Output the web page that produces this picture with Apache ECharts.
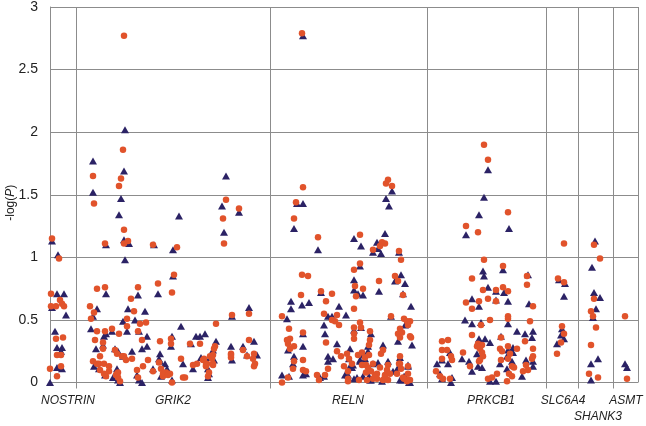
<!DOCTYPE html>
<html>
<head>
<meta charset="utf-8">
<script src="https://cdn.jsdelivr.net/npm/echarts@6/dist/echarts.min.js"></script>
<style>html,body{margin:0;padding:0;background:#fff}#c{width:646px;height:426px}</style>
</head>
<body>
<div id="c"></div>
<script>
// x: relative SNP position along the concatenated gene regions; y: -log(P)
var geneNames = ['NOSTRIN', 'GRIK2', 'RELN', 'PRKCB1', 'SLC6A4', 'ASMT'];
var geneLabelPos = [18, 123, 298, 441, 513, 576];
var lowerGeneNames = ['SHANK3'];
var lowerGeneLabelPos = [548];
var geneBounds = [26, 220.7, 377.3, 496, 528, 563.3];
var plotEnd = 588;
var yTicks = [0, 0.5, 1, 1.5, 2, 2.5, 3];

// circles (red)
var nostrinCircle = [[2,1.15],[9,0.99],[1,0.71],[1,0.61],[6,0.61],[10,0.66],[12,0.63],[14,0.61],[6,0.35],[13,0.36],[7,0.22],[11,0.22],[0,0.11],[11,0.13],[7,0.05]];
var grik2Circle = [[74,2.77],[73,1.86],[71,1.63],[69,1.57],[74,1.22],[78,1.13],[74,1.11],[43,1.65],[44,1.43],[55,1.11],[103,1.10],[127,1.08],[124,0.86],[122,0.72],[108,0.79],[47,0.75],[55,0.76],[88,0.76],[81,0.67],
  [176,1.46],[189,1.39],[173,1.31],[174,1.11],[182,0.54],[199,0.55],
  [40,0.61],[41,0.51],[44,0.56],[47,0.41],[45,0.34],[43,0.17],[50,0.21],[49,0.15],[53,0.27],[54,0.15],[55,0.41],[56,0.05],[59,0.09],[62,0.43],[59,0.13],[66,0.06],[65,0.26],[68,0.08],[70,0.01],[67,0.23],[69,0.39],[77,0.45],[77,0.51],[76,0.18],[72,0.21],[82,0.19],[84,0.57],[87,0.10],[92,0.34],[93,0.13],[90,0.47],[96,0.48],[98,0.18],[103,0.09],[109,0.16],[110,0.33],[111,0.11],[116,0.08],[113,0.05],[120,0.07],[121,0.35],[121,0.31],[122,0.0],[131,0.19],[133,0.04],[135,0.04],[140,0.31],[147,0.15],[150,0.31],[154,0.19],[156,0.13],[158,0.05],[159,0.08],[160,0.21],[162,0.19],[163,0.15],[166,0.47],[165,0.29],
  [157,0.15],[164,0.27],[163,0.22],[181,0.23],[181,0.20],[193,0.26],[197,0.21],[199,0.34],[204,0.23],[203,0.19],[205,0.15],[204,0.13],
  [88,0.41],[53,0.32],[74,0.21],[47,0.15],[50,0.10],[54,0.07],[67,0.07],[68,0.04],[88,0.04],[232,0.53],[181,0.22],[143,0.14],[153,0.18],[156,0.14],[163,0.14],[113,0.07],[118,0.06]];
var relnCircle = [[252,2.79],[253,1.56],[246,1.44],[244,1.31],[268,1.16],[252,0.86],[258,0.85],[251,0.70],[239,0.43],[271,0.73],[282,0.71],[276,0.65],[274,0.55],[276,0.32],[282,0.50],[285,0.49],[287,0.54],[289,0.46],[287,0.25],[278,0.11],
  [304,0.59],[304,0.90],[310,0.95],[305,0.77],[306,0.69],[313,0.75],[310,1.18],[304,0.44],[304,0.39],[310,0.48],[304,0.35],[320,0.34],[319,0.22],[312,0.24],[297,0.23],[291,0.21],[312,0.14],[323,0.15],[325,0.06],[323,0.03],
  [333,0.26],[331,0.23],[337,0.10],[335,0.06],[333,0.02],[298,0.01],[298,0.09],[294,0.13],[316,0.08],[317,0.02],[275,0.06],[267,0.06],[269,0.02],
  [253,0.10],[256,0.09],[253,0.18],[253,0.40],[244,0.17],[244,0.29],[240,0.35],[238,0.31],[237,0.34],[240,0.27],[232,0.0],[238,0.04],[243,0.11],
  [338,1.62],[336,1.59],[342,1.57],[332,1.12],[335,1.11],[330,1.09],[323,1.06],[349,1.05],[351,0.98],[345,0.85],[348,0.81],[329,0.81],[353,0.70],[341,0.53],[354,0.51],[360,0.49],[358,0.46],[350,0.43],[348,0.39],[350,0.36],[360,0.37],[350,0.21],[350,0.15],[351,0.11],[358,0.07],[354,0.03],[357,0.02],[360,0.02],[347,0.07],
  [357,0.49],[311,0.44],[320,0.41],[352,0.40],[361,0.36],[319,0.30],[299,0.19],[308,0.22],[315,0.20],[302,0.15],[316,0.14],[318,0.12],[321,0.09],[327,0.07],[330,0.12],[338,0.14],[340,0.07],[349,0.15],[358,0.13],[357,0.01],[353,0.04],[338,0.02],[335,0.05],[327,0.03],[325,0.04],[309,0.02],[298,0.03]];
var prkcb1Circle = [[434,1.90],[438,1.78],[458,1.36],[416,1.25],[428,1.20],[434,0.98],[453,0.93],[422,0.83],[433,0.74],[446,0.74],[453,0.76],[458,0.73],[429,0.65],[438,0.67],[416,0.64],[422,0.59],[446,0.65],[477,0.85],[477,0.78],[483,0.61],[480,0.49],[440,0.50],[431,0.46],[458,0.51],[458,0.53],
  [475,0.33],[483,0.27],[483,0.21],[482,0.19],[476,0.14],[473,0.09],[478,0.10],[422,0.38],[428,0.31],[432,0.30],[451,0.36],[450,0.27],[452,0.25],[467,0.27],[458,0.29],[460,0.23],[458,0.19],[462,0.13],[459,0.07],[457,0.01],[462,0.05],[464,0.12],[451,0.18],[447,0.07],[442,0.04],[438,0.03],
  [430,0.27],[427,0.29],[433,0.21],[432,0.24],[429,0.17],[430,0.18],[420,0.13],[413,0.24],[398,0.34],[392,0.33],[392,0.26],[397,0.26],[401,0.21],[402,0.18],[392,0.19],[386,0.09],[390,0.05],[393,0.03],[400,0.03]];
var slc6a4Circle = [[514,1.11],[508,0.83],[514,0.80],[512,0.45],[514,0.39],[511,0.32],[507,0.23]];
var shank3Circle = [[544,1.10],[550,0.99],[544,0.67],[541,0.57],[543,0.53],[546,0.44],[541,0.30],[539,0.07],[548,0.04]];
var asmtCircle = [[575,0.53],[577,0.03]];

// triangles (navy)
var nostrinTriangle = [[2,1.13],[8,1.02],[7,0.71],[14,0.71],[2,0.60],[16,0.54],[5,0.41],[7,0.28],[12,0.28],[11,0.25],[7,0.12],[12,0.11],[0,0]];
var grik2Triangle = [[75,2.02],[74,1.69],[71,1.47],[69,1.34],[74,1.14],[79,1.11],[75,0.98],[43,1.77],[43,1.52],[56,1.10],[104,1.10],[129,1.33],[123,1.06],[123,0.85],[108,0.71],[56,0.71],[88,0.70],
  [176,1.65],[172,1.41],[189,1.36],[174,1.20],[182,0.53],[199,0.60],
  [41,0.43],[43,0.53],[47,0.59],[46,0.27],[44,0.13],[49,0.11],[53,0.30],[54,0.37],[56,0.39],[55,0.06],[62,0.41],[63,0.04],[65,0.27],[67,0.11],[68,0.02],[70,0.0],[68,0.25],[73,0.49],[78,0.59],[77,0.41],[73,0.21],[82,0.25],[85,0.50],[87,0.06],[89,0.02],[89,0.41],[92,0.27],[92,0.0],[95,0.57],[97,0.37],[97,0.29],[103,0.11],[109,0.19],[110,0.23],[111,0.05],[115,0.15],[117,0.11],[122,0.37],[121,0.29],[122,0.02],[131,0.45],[133,0.15],[141,0.31],[143,0.11],[146,0.37],[150,0.37],[155,0.39],[151,0.20],[158,0.11],[159,0.07],[163,0.26],[166,0.33],
  [164,0.18],[158,0.04],[181,0.29],[182,0.18],[193,0.29],[197,0.22],[204,0.33],[207,0.22],[160,0.20],[110,0.17]];
var relnTriangle = [[253,2.77],[247,1.43],[253,1.43],[244,1.23],[268,1.06],[252,0.62],[259,0.64],[241,0.65],[241,0.59],[237,0.51],[271,0.72],[274,0.46],[275,0.39],[278,0.53],[282,0.53],[289,0.61],[296,0.54],[287,0.31],[278,0.21],[283,0.19],[278,0.17],
  [304,0.82],[304,0.74],[310,0.93],[313,0.70],[304,1.15],[311,1.09],[311,0.44],[321,0.39],[318,0.25],[310,0.18],[300,0.27],[299,0.19],[303,0.14],[315,0.19],[318,0.10],[328,0.16],[321,0.02],[333,0.30],[338,0.17],[343,0.09],[295,0.06],[304,0.03],[319,0.05],
  [274,0.05],[270,0.04],[256,0.07],[253,0.06],[253,0.29],[253,0.39],[243,0.15],[244,0.21],[238,0.26],[232,0.06],[239,0.05],
  [342,1.53],[336,1.47],[339,1.41],[335,1.19],[327,1.12],[328,1.07],[323,1.04],[331,1.03],[349,1.04],[345,0.81],[351,0.86],[355,0.79],[329,0.73],[353,0.71],[361,0.61],[341,0.53],[355,0.46],[348,0.33],[362,0.30],[350,0.20],[358,0.14],[352,0.02],[359,0.0],[355,0.05],
  [308,0.71],[304,0.42],[318,0.29],[300,0.13],[313,0.22],[310,0.17],[302,0.12],[323,0.15],[348,0.12],[358,0.13],[354,0.05],[360,0.0],[350,0.02],[332,0.01],[320,0.02],[313,0.05],[307,0.04],[298,0.06]];
var prkcb1Triangle = [[438,1.70],[434,1.48],[429,1.34],[416,1.18],[459,1.23],[433,0.89],[434,0.85],[453,0.90],[438,0.76],[446,0.73],[454,0.72],[429,0.61],[422,0.67],[446,0.66],[458,0.65],[478,0.86],[479,0.63],[415,0.50],[422,0.47],[431,0.48],[458,0.47],[467,0.41],[475,0.39],[483,0.41],[482,0.36],[483,0.17],[483,0.13],[476,0.18],[472,0.05],
  [429,0.35],[435,0.35],[440,0.32],[451,0.37],[463,0.28],[458,0.26],[457,0.21],[463,0.24],[462,0.17],[457,0.11],[450,0.15],[446,0.01],[440,0.01],[427,0.23],[428,0.13],[432,0.12],[422,0.09],[419,0.17],[412,0.19],[400,0.24],[392,0.18],[387,0.15],[398,0.15],[390,0.07],[392,0.03],[402,0.04],[401,0.0]];
var slc6a4Triangle = [[509,0.82],[515,0.79],[514,0.69],[512,0.43],[511,0.38],[514,0.35],[507,0.31]];
var shank3Triangle = [[545,1.13],[542,0.92],[544,0.72],[550,0.68],[546,0.59],[543,0.52],[548,0.19],[541,0.15],[541,0.02]];
var asmtTriangle = [[575,0.15],[577,0.12]];

var circleData = [].concat(nostrinCircle, grik2Circle, relnCircle, prkcb1Circle, slc6a4Circle, shank3Circle, asmtCircle);
var triangleData = [].concat(nostrinTriangle, grik2Triangle, relnTriangle, prkcb1Triangle, slc6a4Triangle, shank3Triangle, asmtTriangle);

var gridColor = '#8c8c8c';
var fontFam = 'Liberation Sans, Arial, sans-serif';
function labelFormatter(names, positions) {
  return function (v) {
    var i = positions.indexOf(v);
    return i < 0 ? '' : names[i];
  };
}
var chart = echarts.init(document.getElementById('c'), null, {renderer: 'canvas'});
chart.setOption({
  animation: false,
  backgroundColor: '#ffffff',
  grid: {left: 50, right: 8, top: 7, bottom: 43.5, containLabel: false, outerBoundsMode: 'none'},
  xAxis: [{
    type: 'value', min: 0, max: plotEnd,
    axisLine: {show: false},
    splitLine: {show: false},
    axisTick: {show: true, customValues: geneBounds, length: 6, lineStyle: {color: gridColor, width: 1}},
    axisLabel: {
      customValues: geneLabelPos, hideOverlap: false, showMinLabel: true, showMaxLabel: true,
      margin: 12, fontFamily: fontFam, fontStyle: 'italic', fontSize: 12, color: '#222',
      formatter: labelFormatter(geneNames, geneLabelPos)
    }
  }, {
    type: 'value', min: 0, max: plotEnd, position: 'bottom', offset: 16,
    axisLine: {show: false}, splitLine: {show: false}, axisTick: {show: false},
    axisLabel: {
      customValues: lowerGeneLabelPos, hideOverlap: false,
      margin: 12, fontFamily: fontFam, fontStyle: 'italic', fontSize: 12, color: '#222',
      formatter: labelFormatter(lowerGeneNames, lowerGeneLabelPos)
    }
  }],
  yAxis: {
    type: 'value', min: yTicks[0], max: yTicks[yTicks.length - 1], interval: 0.5,
    name: '-log({i|P})', nameLocation: 'middle', nameGap: 33, nameMoveOverlap: false,
    nameTextStyle: {fontFamily: fontFam, fontSize: 12, color: '#222', padding: [0, 16, 0, 0], rich: {i: {fontStyle: 'italic', fontSize: 12, fontFamily: fontFam, color: '#222'}}},
    axisLine: {show: true, lineStyle: {color: gridColor, width: 1}},
    axisTick: {show: false},
    axisLabel: {fontFamily: fontFam, fontSize: 14, color: '#222', margin: 12},
    splitLine: {show: true, lineStyle: {color: gridColor, width: 1}}
  },
  series: [
    {
      type: 'scatter', name: 'triangle', symbol: 'triangle', symbolSize: [8, 7],
      itemStyle: {color: '#2b2265', opacity: 1},
      data: triangleData, z: 3,
      markLine: {
        silent: true, symbol: 'none', animation: false,
        label: {show: false},
        lineStyle: {color: gridColor, width: 1, type: 'solid'},
        data: geneBounds.concat([plotEnd]).map(function (b) { return {xAxis: b}; })
      }
    },
    {
      type: 'scatter', name: 'circle', symbol: 'circle', symbolSize: 6.5,
      itemStyle: {color: '#e1532b', opacity: 1},
      data: circleData, z: 4
    }
  ]
});
</script>
</body>
</html>
